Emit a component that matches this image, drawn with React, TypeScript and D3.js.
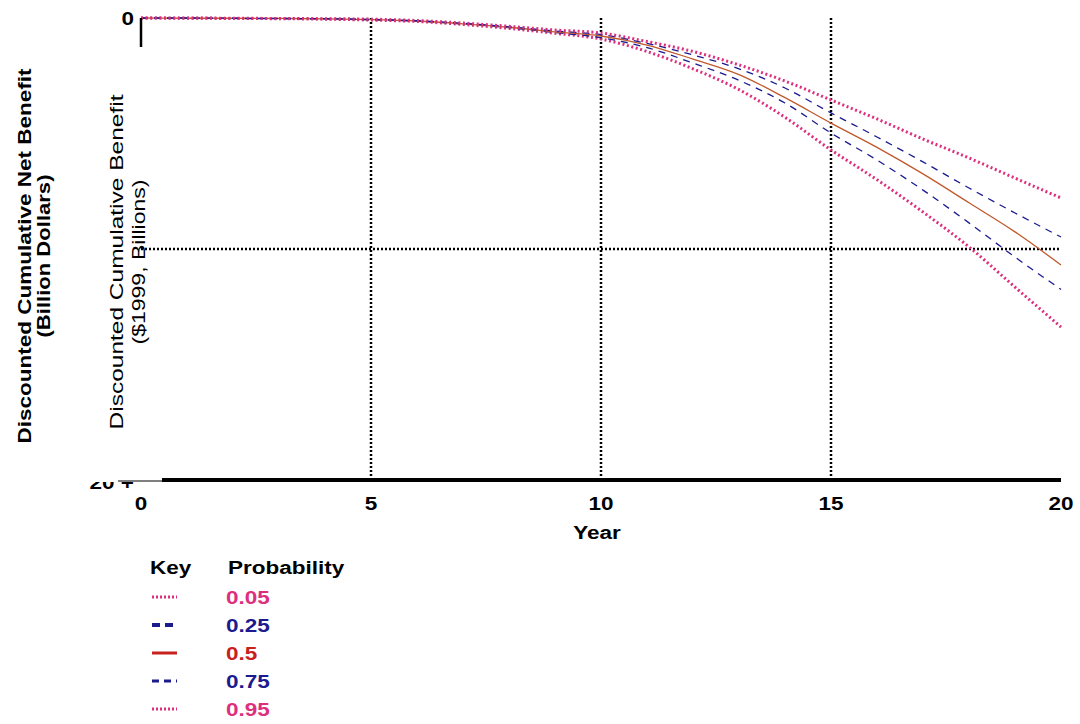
import React from 'react';
import * as d3 from 'd3';

// years on the x axis
const years = d3.range(0, 21);

// cumulative net benefit per probability level (billion dollars)
const p05 = [0, -0.01, -0.02, -0.03, -0.05, -0.09, -0.15, -0.28, -0.45, -0.66, -0.91, -1.45, -2.2, -3.1, -4.3, -5.71, -7.0, -8.4, -9.91, -11.65, -13.38];
const p25 = [0, -0.01, -0.02, -0.03, -0.04, -0.08, -0.14, -0.26, -0.42, -0.63, -0.85, -1.28, -1.95, -2.7, -3.68, -4.98, -6.15, -7.45, -8.87, -10.35, -11.75];
const p50 = [0, -0.01, -0.01, -0.02, -0.04, -0.07, -0.13, -0.25, -0.4, -0.6, -0.78, -1.17, -1.78, -2.45, -3.45, -4.55, -5.6, -6.75, -8.0, -9.26, -10.69];
const p75 = [0, 0, -0.01, -0.02, -0.03, -0.06, -0.12, -0.23, -0.38, -0.56, -0.72, -1.1, -1.6, -2.2, -3.03, -4.11, -5.15, -6.23, -7.36, -8.44, -9.48];
const p95 = [0, 0, -0.01, -0.02, -0.03, -0.05, -0.11, -0.22, -0.36, -0.52, -0.65, -1.02, -1.45, -2.03, -2.73, -3.55, -4.37, -5.24, -6.06, -6.93, -7.79];

const probLabels = ['0.05', '0.25', '0.5', '0.75', '0.95'];
const xTicks = [0, 5, 10, 15, 20];
const xGrid = [5, 10, 15];
const yGrid = [-10];

const PINK = '#dc2f7e';
const BLUE = '#1b1b8f';
const RED = '#c8201c';
const BROWN = '#c0582c';

// wide bold label, like the stretched original bitmap
const Wide = ({ x, y, anchor = 'start', fill = '#000', children }: any) => (
  <text transform={`translate(${x},${y}) scale(1.25,1)`} textAnchor={anchor}
    fontSize={18} fontWeight="bold" fill={fill}>{children}</text>
);

const App = () => {
  const x = d3.scaleLinear().domain([0, 20]).range([141, 1061]);
  const y = d3.scaleLinear().domain([-20, 0]).range([480, 18]);

  const line = d3.line<number>()
    .x((_, i) => x(years[i]))
    .y(d => y(d))
    .curve(d3.curveMonotoneX);

  const series = [
    { values: p05, color: PINK, width: 3, dash: '2 2.6', legendColor: PINK, legendWidth: 3, legendDash: '2 2' },
    { values: p25, color: BLUE, width: 1.3, dash: '7 6', legendColor: BLUE, legendWidth: 4, legendDash: '8 5' },
    { values: p50, color: BROWN, width: 1.3, dash: null, legendColor: RED, legendWidth: 3, legendDash: null },
    { values: p75, color: BLUE, width: 1.3, dash: '7 6', legendColor: BLUE, legendWidth: 3, legendDash: '7 5' },
    { values: p95, color: PINK, width: 3, dash: '2 2.6', legendColor: PINK, legendWidth: 3, legendDash: '2 2' },
  ];

  const font = 'Liberation Sans, Arial, sans-serif';

  return (
    <svg width={1080} height={724} style={{ position: 'absolute', left: 0, top: 0, background: '#fff' }} fontFamily={font}>
      <defs>
        <clipPath id="lowClip">
          <rect x={90} y={482} width={80} height={30} />
        </clipPath>
      </defs>

      {/* gridlines */}
      {xGrid.map(t => (
        <line key={'gx' + t} x1={x(t)} x2={x(t)} y1={y(0)} y2={y(-20)}
          stroke="#000" strokeWidth={2.5} strokeDasharray="2 2" />
      ))}
      {yGrid.map(t => (
        <line key={'gy' + t} x1={x(0)} x2={x(20)} y1={y(t)} y2={y(t)}
          stroke="#000" strokeWidth={2.5} strokeDasharray="2 2" />
      ))}

      {/* curves */}
      {series.map((s, i) => (
        <path key={'s' + i} d={line(s.values) || ''} fill="none" stroke={s.color}
          strokeWidth={s.width} strokeDasharray={s.dash || undefined} />
      ))}

      {/* axes */}
      <line x1={x(0)} x2={x(0)} y1={y(0)} y2={47} stroke="#000" strokeWidth={2.5} />
      <line x1={162} x2={x(20)} y1={y(-20)} y2={y(-20)} stroke="#000" strokeWidth={4} />
      <line x1={118} x2={162} y1={481} y2={481} stroke="#000" strokeWidth={1} />
      <Wide x={134} y={y(0) + 6.5} anchor="end">0</Wide>
      <g clipPath="url(#lowClip)">
        <Wide x={134} y={489} anchor="end">-20 +</Wide>
      </g>

      {xTicks.map(t => (
        <Wide key={'xt' + t} x={x(t)} y={510} anchor="middle">{t}</Wide>
      ))}
      <Wide x={597} y={539} anchor="middle">Year</Wide>

      {/* y titles */}
      <text transform="translate(31,256) rotate(-90)" textAnchor="middle" fontSize={18} fontWeight="bold"
        textLength={375} lengthAdjust="spacingAndGlyphs">Discounted Cumulative Net Benefit</text>
      <text transform="translate(50,256) rotate(-90)" textAnchor="middle" fontSize={18} fontWeight="bold"
        textLength={163} lengthAdjust="spacingAndGlyphs">(Billion Dollars)</text>
      <text transform="translate(123,262) rotate(-90)" textAnchor="middle" fontSize={18}
        textLength={335} lengthAdjust="spacingAndGlyphs">Discounted Cumulative Benefit</text>
      <text transform="translate(145,262) rotate(-90)" textAnchor="middle" fontSize={18}
        textLength={165} lengthAdjust="spacingAndGlyphs">($1999, Billions)</text>

      {/* legend */}
      <Wide x={150} y={574}>Key</Wide>
      <Wide x={228} y={574}>Probability</Wide>
      {series.map((s, i) => {
        const ly = 597 + i * 28;
        return (
          <g key={'lg' + i}>
            <line x1={152} x2={177} y1={ly} y2={ly} stroke={s.legendColor} strokeWidth={s.legendWidth}
              strokeDasharray={s.legendDash || undefined} />
            <Wide x={226} y={ly + 6.5} fill={s.legendColor}>{probLabels[i]}</Wide>
          </g>
        );
      })}
    </svg>
  );
};

export default App;
